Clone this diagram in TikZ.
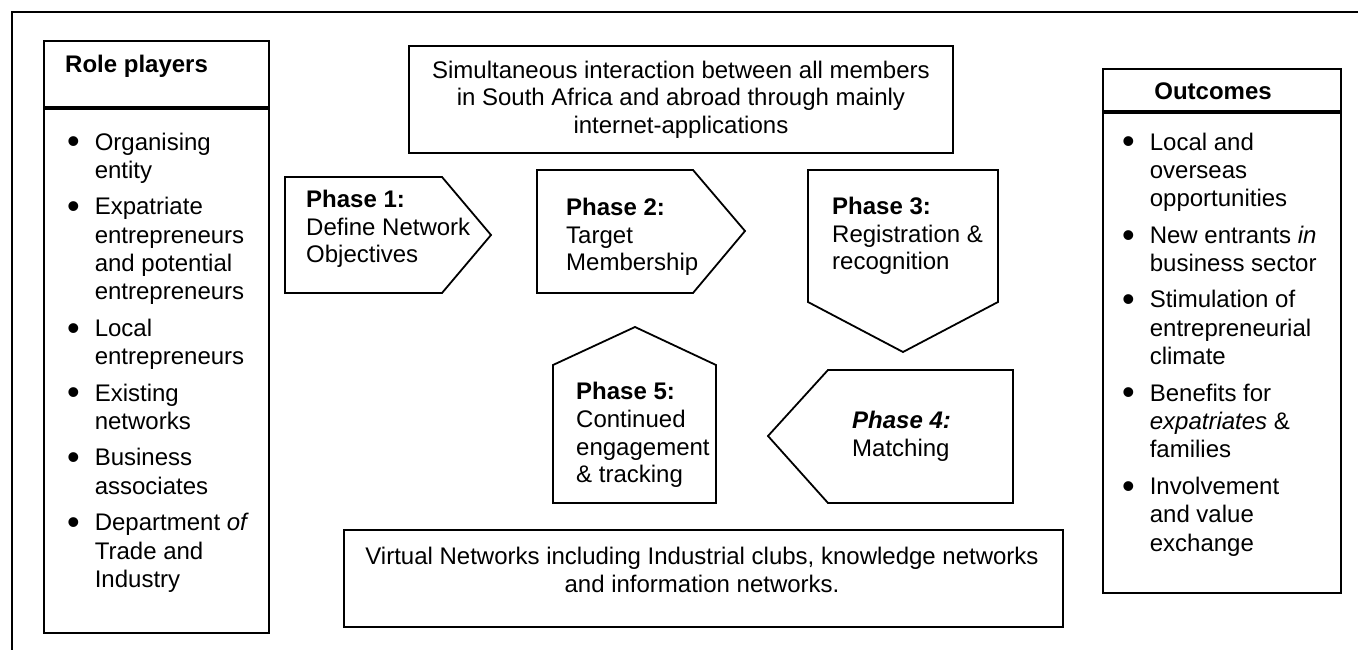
\documentclass[tikz,border=0pt]{standalone}
\usepackage{fontspec}
\setmainfont{Liberation Sans}
\usepackage{graphicx}
\usepackage{tikz}
\usetikzlibrary{positioning}

\newcommand{\bodyfont}{\fontsize{24}{27.6}\selectfont}
\newcommand{\listfont}{\fontsize{24}{28.4}\selectfont}
\newcommand{\dotmark}{\raisebox{-3.8pt}{\scalebox{1.5}{\textbullet}}}

\tikzstyle{frame} = [line width=2pt]
\tikzstyle{box} = [rectangle, draw, line width=1.8pt, inner sep=0pt]
\tikzstyle{phase} = [draw, line width=1.8pt, line join=miter]
\tikzstyle{phasetext} = [anchor=west, align=left, inner sep=0pt, font=\bodyfont]
\tikzstyle{note} = [align=center, inner sep=0pt, font=\bodyfont]
\tikzstyle{listing} = [anchor=base west, inner sep=0pt, font=\listfont]

\begin{document}
\begin{tikzpicture}[x=1pt, y=-1pt]
    \useasboundingbox (0,0) rectangle (1358,650);
    % page frame, only the top and left edges are on the page
    \draw [frame] (1358,12) -- (12,12) -- (12,650);

    % left column
    \node (rolehead) [box, anchor=north west, minimum width=225, minimum height=66] at (43,40) {};
    \node (rolebody) [box, minimum width=225, minimum height=524, below=0pt of rolehead] {};
    \node (roletitle) [phasetext] at (65,66) {\textbf{Role players}};
    \node (roleitems) [listing] at (67,150) {%
      \begin{tabular}[t]{@{}l@{\hspace{15pt}}l@{}}
        \dotmark & Organising\\
                 & entity\\[8pt]
        \dotmark & Expatriate\\
                 & entrepreneurs\\
                 & and potential\\
                 & entrepreneurs\\[8pt]
        \dotmark & Local\\
                 & entrepreneurs\\[8pt]
        \dotmark & Existing\\
                 & networks\\[8pt]
        \dotmark & Business\\
                 & associates\\[8pt]
        \dotmark & Department \textit{of}\\
                 & Trade and\\
                 & Industry
      \end{tabular}};

    % right column
    \node (outhead) [box, anchor=north west, minimum width=238, minimum height=42] at (1102,68) {};
    \node (outbody) [box, minimum width=238, minimum height=480, below=0pt of outhead] {};
    \node (outtitle) [note] at (1213,91) {\textbf{Outcomes}};
    \node (outitems) [listing] at (1122,150) {%
      \begin{tabular}[t]{@{}l@{\hspace{15pt}}l@{}}
        \dotmark & Local and\\
                 & overseas\\
                 & opportunities\\[8pt]
        \dotmark & New entrants \textit{in}\\
                 & business sector\\[8pt]
        \dotmark & Stimulation of\\
                 & entrepreneurial\\
                 & climate\\[8pt]
        \dotmark & Benefits for\\
                 & \textit{expatriates} \&\\
                 & families\\[8pt]
        \dotmark & Involvement\\
                 & and value\\
                 & exchange
      \end{tabular}};

    % top and bottom banners
    \node (online) [box, anchor=north west, minimum width=544, minimum height=107] at (408,45) {};
    \node (onlinetext) [note] at (online.center) {Simultaneous interaction between all members\\in South Africa and abroad through mainly\\internet-applications};
    \node (virtual) [box, anchor=north west, minimum width=719, minimum height=97] at (343,529) {};
    \node (virtualtext) [note] at (702,570) {Virtual Networks including Industrial clubs, knowledge networks\\and information networks.};

    % the five phases
    \draw [phase] (285,177) -- (442,177) -- (491,235) -- (442,293) -- (285,293) -- cycle;
    \node (ph1) [phasetext] at (306,229) {\textbf{Phase 1:}\\Define Network\\Objectives};

    \draw [phase] (537,170) -- (693,170) -- (745,231) -- (693,293) -- (537,293) -- cycle;
    \node (ph2) [phasetext] at (566,237) {\textbf{Phase 2:}\\Target\\Membership};

    \draw [phase] (808,170) -- (998,170) -- (998,302) -- (903,352) -- (808,302) -- cycle;
    \node (ph3) [phasetext] at (832,236) {\textbf{Phase 3:}\\Registration \&\\recognition};

    \draw [phase] (828,370) -- (1013,370) -- (1013,503) -- (828,503) -- (768,436) -- cycle;
    \node (ph4) [phasetext] at (852,436) {\textbf{\textit{Phase 4:}}\\Matching};

    \draw [phase] (553,503) -- (553,365) -- (635,327) -- (716,365) -- (716,503) -- cycle;
    \node (ph5) [phasetext] at (576,435) {\textbf{Phase 5:}\\Continued\\engagement\\\& tracking};
\end{tikzpicture}
\end{document}
